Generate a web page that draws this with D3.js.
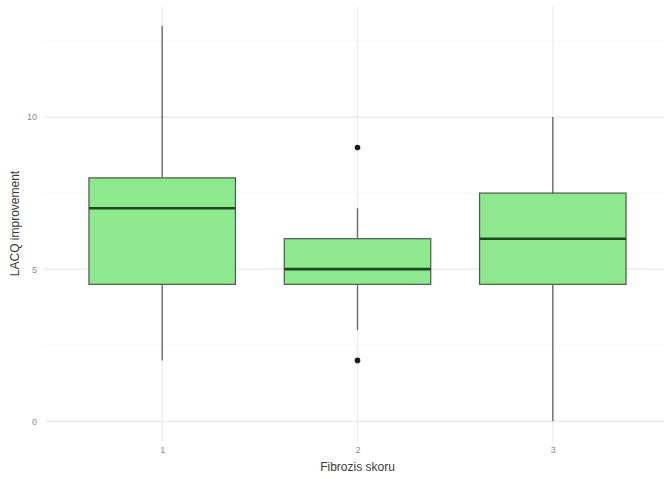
<!DOCTYPE html>
<html>
<head>
<meta charset="utf-8">
<script src="https://cdn.jsdelivr.net/npm/d3@7/dist/d3.min.js"></script>
<style>
  html, body { margin: 0; padding: 0; background: #fff; }
  svg { display: block; font-family: "Liberation Sans", Arial, sans-serif; }
</style>
</head>
<body>
<svg id="chart" width="664" height="479"></svg>
<script>
// Fibrosis score groups and their box-plot summaries
const categories = ["1", "2", "3"];
const lowerWhisker = [2, 3, 0];
const q1 = [4.5, 4.5, 4.5];
const median = [7, 5, 6];
const q3 = [8, 6, 7.5];
const upperWhisker = [13, 7, 10];
// Outlying observations: [group, value]
const outliers = [["2", 9], ["2", 2]];
const yTicks = [0, 5, 10];
const yMinor = [2.5, 7.5, 12.5];

const svg = d3.select("#chart");
const width = 664, height = 479;
const panel = { left: 45, right: 670, top: 6, bottom: 441 };

// Discrete x scale with ggplot-like 0.6 unit expansion on each side
const step = (panel.right - panel.left) / (categories.length - 1 + 1.2);
const x = d3.scalePoint()
  .domain(categories)
  .range([panel.left + 0.6 * step, panel.right - 0.6 * step]);
const boxW = 0.75 * step;

const y = d3.scaleLinear()
  .domain([-0.65, 13.65])
  .range([panel.bottom, panel.top]);

// Grid lines
const grid = svg.append("g");
grid.selectAll("line.minor").data(yMinor).join("line")
  .attr("x1", panel.left).attr("x2", width)
  .attr("y1", d => y(d)).attr("y2", d => y(d))
  .attr("stroke", "#f2f2f2").attr("stroke-width", 0.8);
grid.selectAll("line.major").data(yTicks).join("line")
  .attr("x1", panel.left).attr("x2", width)
  .attr("y1", d => y(d)).attr("y2", d => y(d))
  .attr("stroke", "#e6e6e6").attr("stroke-width", 1.2);
grid.selectAll("line.vmajor").data(categories).join("line")
  .attr("x1", d => x(d)).attr("x2", d => x(d))
  .attr("y1", panel.top).attr("y2", panel.bottom)
  .attr("stroke", "#ececec").attr("stroke-width", 1.2);

// Axes (text only, minimal theme)
const yAxis = svg.append("g")
  .attr("transform", `translate(${panel.left},0)`)
  .call(d3.axisLeft(y).tickValues(yTicks).tickSize(0).tickPadding(8));
yAxis.select(".domain").remove();
yAxis.selectAll("text").attr("fill", "#8a8a8a").style("font-size", "9px")
  .style("font-family", "Liberation Sans, Arial, sans-serif");

const xAxis = svg.append("g")
  .attr("transform", `translate(0,${panel.bottom})`)
  .call(d3.axisBottom(x).tickSize(0).tickPadding(6));
xAxis.select(".domain").remove();
xAxis.selectAll("text").attr("fill", "#8a8a8a").style("font-size", "9px")
  .style("font-family", "Liberation Sans, Arial, sans-serif");

// Axis titles
svg.append("text")
  .attr("x", (panel.left + panel.right) / 2)
  .attr("y", 471)
  .attr("text-anchor", "middle")
  .attr("fill", "#3a3a3a")
  .style("font-size", "12px")
  .text("Fibrozis skoru");

svg.append("text")
  .attr("transform", `translate(19,${(panel.top + panel.bottom) / 2}) rotate(-90)`)
  .attr("text-anchor", "middle")
  .attr("fill", "#3a3a3a")
  .style("font-size", "12px")
  .text("LACQ improvement");

// Boxes
const boxes = svg.append("g").selectAll("g").data(categories).join("g");

boxes.append("line")
  .attr("x1", d => x(d)).attr("x2", d => x(d))
  .attr("y1", (d, i) => y(upperWhisker[i])).attr("y2", (d, i) => y(q3[i]))
  .attr("stroke", "#6a6a6a").attr("stroke-width", 1.4);
boxes.append("line")
  .attr("x1", d => x(d)).attr("x2", d => x(d))
  .attr("y1", (d, i) => y(q1[i])).attr("y2", (d, i) => y(lowerWhisker[i]))
  .attr("stroke", "#6a6a6a").attr("stroke-width", 1.4);

boxes.append("rect")
  .attr("x", d => x(d) - boxW / 2)
  .attr("width", boxW)
  .attr("y", (d, i) => y(q3[i]))
  .attr("height", (d, i) => y(q1[i]) - y(q3[i]))
  .attr("fill", "#8ee88e")
  .attr("stroke", "#4a5a4a").attr("stroke-width", 1.2);

boxes.append("line")
  .attr("x1", d => x(d) - boxW / 2).attr("x2", d => x(d) + boxW / 2)
  .attr("y1", (d, i) => y(median[i])).attr("y2", (d, i) => y(median[i]))
  .attr("stroke", "#1e4a1e").attr("stroke-width", 2.6);

// Outliers
svg.append("g").selectAll("circle").data(outliers).join("circle")
  .attr("cx", d => x(d[0])).attr("cy", d => y(d[1]))
  .attr("r", 2.8).attr("fill", "#1a1a1a");
</script>
</body>
</html>
